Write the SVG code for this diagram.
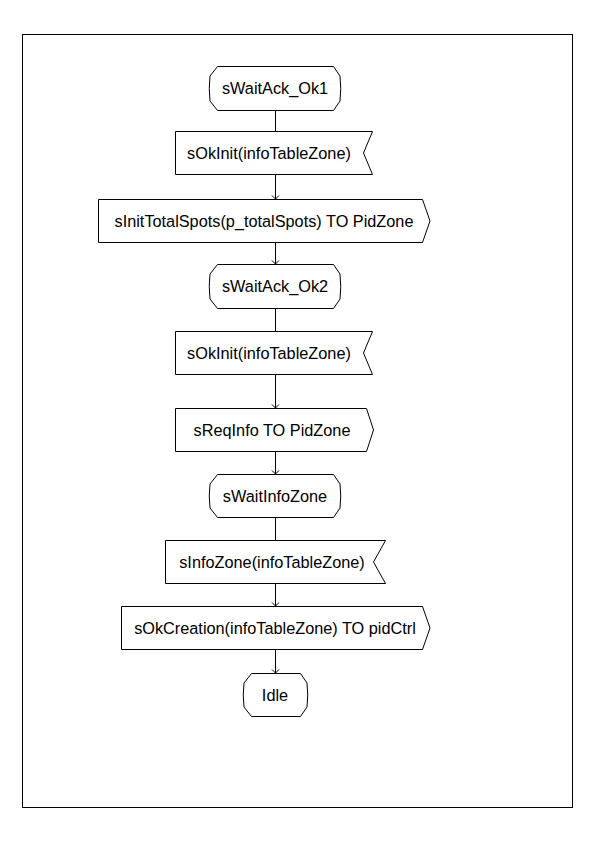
<svg xmlns="http://www.w3.org/2000/svg" width="595" height="842" viewBox="0 0 595 842">
  <style>
    .shape { fill: #ffffff; stroke: #000000; stroke-width: 1; }
    .wire { fill: none; stroke: #000000; stroke-width: 1; }
    .label { font-family: "Liberation Sans", Arial, sans-serif; font-size: 16.3px; fill: #000000; text-anchor: middle; }
  </style>
  <defs>
    <!-- small open V arrowhead, drawn along +x so orient="auto" points it down the wire -->
    <marker id="arrow" markerWidth="10" markerHeight="10" refX="5" refY="5" orient="auto" markerUnits="userSpaceOnUse">
      <path d="M1.5,1.5 L5,5 L1.5,8.5" fill="none" stroke="#000000" stroke-width="1"/>
    </marker>
  </defs>

  <rect x="22.5" y="34.5" width="550" height="773" fill="#ffffff" stroke="#000000" stroke-width="1"/>

  <!-- flow connectors -->
  <g id="connectors">
    <line class="wire" x1="275.5" y1="111" x2="275.5" y2="131"/>
    <line class="wire" x1="275.5" y1="175" x2="275.5" y2="199" marker-end="url(#arrow)"/>
    <line class="wire" x1="275.5" y1="243" x2="275.5" y2="264" marker-end="url(#arrow)"/>
    <line class="wire" x1="275.5" y1="309" x2="275.5" y2="331"/>
    <line class="wire" x1="275.5" y1="375" x2="275.5" y2="408" marker-end="url(#arrow)"/>
    <line class="wire" x1="275.5" y1="452" x2="275.5" y2="474" marker-end="url(#arrow)"/>
    <line class="wire" x1="275.5" y1="518" x2="275.5" y2="540"/>
    <line class="wire" x1="275.5" y1="584" x2="275.5" y2="606" marker-end="url(#arrow)"/>
    <line class="wire" x1="275.5" y1="650" x2="275.5" y2="673" marker-end="url(#arrow)"/>
  </g>

  <!-- state: sWaitAck_Ok1 -->
  <g id="state_waitAck1">
    <path class="shape" d="M217.5,66.5 H333.5 L340,76 Q341.5,88.5 340,101 L333.5,110.5 H217.5 L210,101 Q208.5,88.5 210,76 Z"/>
    <text class="label" x="275" y="94">sWaitAck_Ok1</text>
  </g>

  <!-- input: sOkInit -->
  <g id="input_okInit1">
    <path class="shape" d="M175.5,131.5 H372.5 L363.5,153 L372.5,174.5 H175.5 Z"/>
    <text class="label" x="269" y="159">sOkInit(infoTableZone)</text>
  </g>

  <!-- output: sInitTotalSpots -->
  <g id="output_initTotalSpots">
    <path class="shape" d="M98.5,199.5 H422.5 L430,221 L422.5,242.5 H98.5 Z"/>
    <text class="label" x="264" y="227">sInitTotalSpots(p_totalSpots) TO PidZone</text>
  </g>

  <!-- state: sWaitAck_Ok2 -->
  <g id="state_waitAck2">
    <path class="shape" d="M217.5,264.5 H333.5 L340,274 Q341.5,286.5 340,299 L333.5,308.5 H217.5 L210,299 Q208.5,286.5 210,274 Z"/>
    <text class="label" x="275" y="292">sWaitAck_Ok2</text>
  </g>

  <!-- input: sOkInit -->
  <g id="input_okInit2">
    <path class="shape" d="M175.5,331.5 H372.5 L363.5,353 L372.5,374.5 H175.5 Z"/>
    <text class="label" x="269" y="359">sOkInit(infoTableZone)</text>
  </g>

  <!-- output: sReqInfo -->
  <g id="output_reqInfo">
    <path class="shape" d="M175.5,408.5 H366.5 L373.5,430 L366.5,451.5 H175.5 Z"/>
    <text class="label" x="272" y="436">sReqInfo TO PidZone</text>
  </g>

  <!-- state: sWaitInfoZone -->
  <g id="state_waitInfoZone">
    <path class="shape" d="M217.5,474.5 H333.5 L340,484 Q341.5,496 340,508 L333.5,517.5 H217.5 L210,508 Q208.5,496 210,484 Z"/>
    <text class="label" x="275" y="502">sWaitInfoZone</text>
  </g>

  <!-- input: sInfoZone -->
  <g id="input_infoZone">
    <path class="shape" d="M165.5,540.5 H385.5 L373.5,562 L385.5,583.5 H165.5 Z"/>
    <text class="label" x="272" y="568">sInfoZone(infoTableZone)</text>
  </g>

  <!-- output: sOkCreation -->
  <g id="output_okCreation">
    <path class="shape" d="M121.5,606.5 H422.5 L430,628 L422.5,649.5 H121.5 Z"/>
    <text class="label" x="275" y="634">sOkCreation(infoTableZone) TO pidCtrl</text>
  </g>

  <!-- state: Idle -->
  <g id="state_idle">
    <path class="shape" d="M251.5,673.5 H300.5 L307,683 Q308.5,695 307,707 L300.5,716.5 H251.5 L244,707 Q242.5,695 244,683 Z"/>
    <text class="label" x="275" y="701">Idle</text>
  </g>
</svg>
